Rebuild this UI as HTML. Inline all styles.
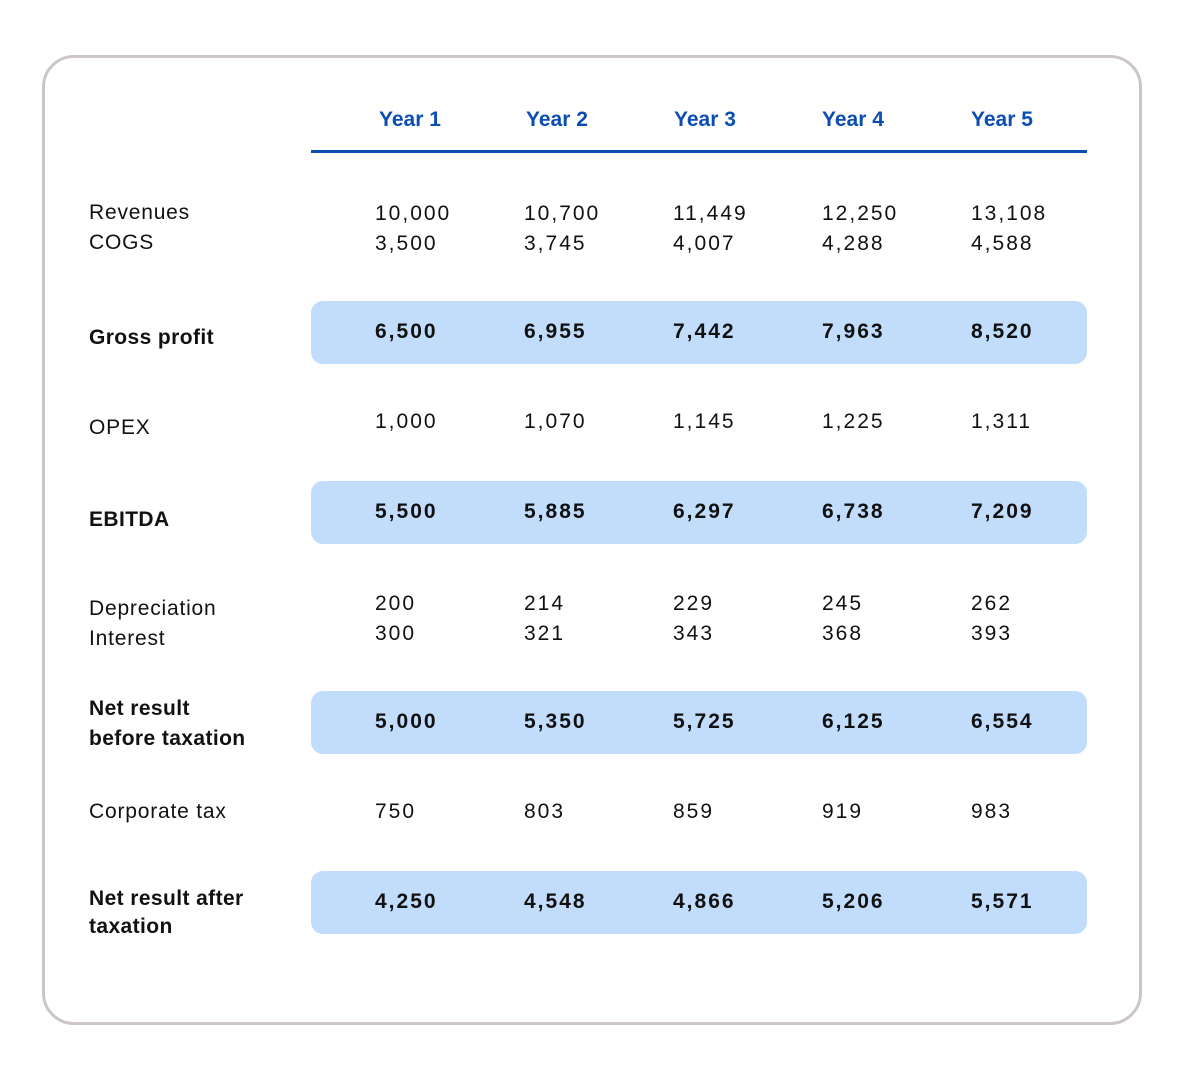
<!DOCTYPE html>
<html><head><style>
body{margin:0;width:1190px;height:1080px;background:#fff;font-family:"Liberation Sans",sans-serif;position:relative;overflow:hidden}
.box{position:absolute;left:42px;top:55px;width:1094px;height:964px;border:3px solid #cdc6c9;border-radius:32px}
.t{position:absolute;font-size:21px;line-height:24px;color:#111;white-space:nowrap;letter-spacing:0.8px}
.n{letter-spacing:2px}
.b{font-weight:bold}
.h{color:#0b4db0;font-weight:bold;letter-spacing:0}
.band{position:absolute;left:311px;width:776px;height:63px;background:#c2dcfc;border-radius:12px}
.line{position:absolute;left:311px;top:150px;width:776px;height:3px;background:#0b4db0}
</style></head><body>
<div class="box"></div>
<div class="line"></div>
<div class="band" style="top:301px"></div>
<div class="band" style="top:481px"></div>
<div class="band" style="top:691px"></div>
<div class="band" style="top:871px"></div>
<div class="t h" style="left:379px;top:108px">Year 1</div>
<div class="t h" style="left:526px;top:108px">Year 2</div>
<div class="t h" style="left:674px;top:108px">Year 3</div>
<div class="t h" style="left:822px;top:108px">Year 4</div>
<div class="t h" style="left:971px;top:108px">Year 5</div>

<div class="t" style="left:89px;top:198px;line-height:30px">Revenues<br>COGS</div>
<div class="t b" style="left:89px;top:326px;letter-spacing:0.4px">Gross profit</div>
<div class="t" style="left:89px;top:416px">OPEX</div>
<div class="t b" style="left:89px;top:508px;letter-spacing:0.4px">EBITDA</div>
<div class="t" style="left:89px;top:594px;line-height:30px">Depreciation<br>Interest</div>
<div class="t b" style="left:89px;top:694px;line-height:30px;letter-spacing:0.4px">Net result<br>before taxation</div>
<div class="t" style="left:89px;top:800px">Corporate tax</div>
<div class="t b" style="left:89px;top:885px;line-height:28px;letter-spacing:0.4px">Net result after<br>taxation</div>

<div class="t n" style="left:375px;top:199px;line-height:30px">10,000<br>3,500</div>
<div class="t n" style="left:524px;top:199px;line-height:30px">10,700<br>3,745</div>
<div class="t n" style="left:673px;top:199px;line-height:30px">11,449<br>4,007</div>
<div class="t n" style="left:822px;top:199px;line-height:30px">12,250<br>4,288</div>
<div class="t n" style="left:971px;top:199px;line-height:30px">13,108<br>4,588</div>

<div class="t b n" style="left:375px;top:320px">6,500</div>
<div class="t b n" style="left:524px;top:320px">6,955</div>
<div class="t b n" style="left:673px;top:320px">7,442</div>
<div class="t b n" style="left:822px;top:320px">7,963</div>
<div class="t b n" style="left:971px;top:320px">8,520</div>

<div class="t n" style="left:375px;top:410px">1,000</div>
<div class="t n" style="left:524px;top:410px">1,070</div>
<div class="t n" style="left:673px;top:410px">1,145</div>
<div class="t n" style="left:822px;top:410px">1,225</div>
<div class="t n" style="left:971px;top:410px">1,311</div>

<div class="t b n" style="left:375px;top:500px">5,500</div>
<div class="t b n" style="left:524px;top:500px">5,885</div>
<div class="t b n" style="left:673px;top:500px">6,297</div>
<div class="t b n" style="left:822px;top:500px">6,738</div>
<div class="t b n" style="left:971px;top:500px">7,209</div>

<div class="t n" style="left:375px;top:589px;line-height:30px">200<br>300</div>
<div class="t n" style="left:524px;top:589px;line-height:30px">214<br>321</div>
<div class="t n" style="left:673px;top:589px;line-height:30px">229<br>343</div>
<div class="t n" style="left:822px;top:589px;line-height:30px">245<br>368</div>
<div class="t n" style="left:971px;top:589px;line-height:30px">262<br>393</div>

<div class="t b n" style="left:375px;top:710px">5,000</div>
<div class="t b n" style="left:524px;top:710px">5,350</div>
<div class="t b n" style="left:673px;top:710px">5,725</div>
<div class="t b n" style="left:822px;top:710px">6,125</div>
<div class="t b n" style="left:971px;top:710px">6,554</div>

<div class="t n" style="left:375px;top:800px">750</div>
<div class="t n" style="left:524px;top:800px">803</div>
<div class="t n" style="left:673px;top:800px">859</div>
<div class="t n" style="left:822px;top:800px">919</div>
<div class="t n" style="left:971px;top:800px">983</div>

<div class="t b n" style="left:375px;top:890px">4,250</div>
<div class="t b n" style="left:524px;top:890px">4,548</div>
<div class="t b n" style="left:673px;top:890px">4,866</div>
<div class="t b n" style="left:822px;top:890px">5,206</div>
<div class="t b n" style="left:971px;top:890px">5,571</div>
</body></html>
